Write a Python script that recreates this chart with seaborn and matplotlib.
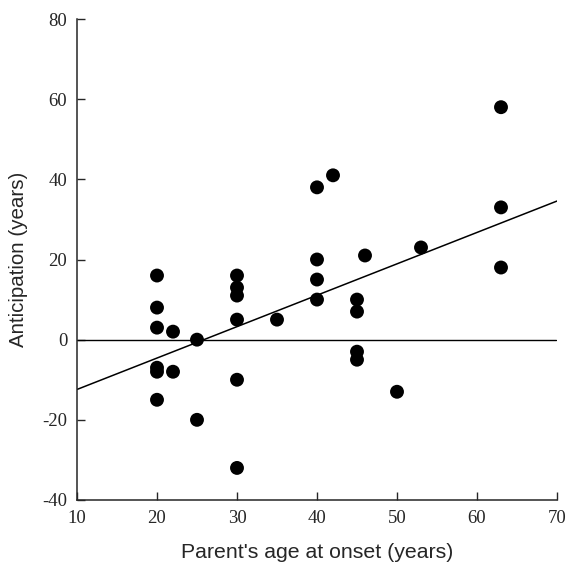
import matplotlib
matplotlib.use("Agg")
import matplotlib.pyplot as plt
import seaborn as sns
import pandas as pd

parent_age = [20, 20, 20, 20, 20, 20,
              22, 22,
              25, 25,
              30, 30, 30, 30, 30, 30,
              35,
              40, 40, 40, 40,
              42,
              45, 45, 45, 45,
              46,
              50,
              53,
              63, 63, 63]
anticipation = [16, 8, 3, -7, -8, -15,
                2, -8,
                0, -20,
                16, 13, 11, 5, -10, -32,
                5,
                38, 20, 15, 10,
                41,
                10, 7, -3, -5,
                21,
                -13,
                23,
                58, 33, 18]

x_ticks = [10, 20, 30, 40, 50, 60, 70]
y_ticks = [-40, -20, 0, 20, 40, 60, 80]

df = pd.DataFrame({"age": parent_age, "ant": anticipation})

sns.set_style("ticks")
fig = plt.figure(figsize=(5.72, 5.63), dpi=100)
ax = fig.add_axes([77/572, 1-500/563, 480/572, 481/563])
ax.set_xlim(10, 70)
ax.set_ylim(-40, 80)

ax.axhline(0, color="black", lw=1.0, xmax=0.997)
sns.regplot(data=df, x="age", y="ant", ax=ax, ci=None, truncate=False,
            scatter_kws=dict(s=100, color="black", edgecolor="none", alpha=1),
            line_kws=dict(color="black", lw=1.1))

ax.set_xlim(10, 70)
ax.set_ylim(-40, 80)
ax.set_xticks(x_ticks)
ax.set_yticks(y_ticks)
ax.set_xticklabels([str(t) for t in x_ticks], family="Liberation Serif", fontsize=13.5)
ax.set_yticklabels([str(t) for t in y_ticks], family="Liberation Serif", fontsize=13.5)
ax.tick_params(direction="in", length=6, width=1)
ax.tick_params(axis="x", pad=7)
ax.tick_params(axis="y", pad=7)
for s in ["top", "right"]:
    ax.spines[s].set_visible(False)
for s in ["left", "bottom"]:
    ax.spines[s].set_linewidth(1.1)
ax.set_xlabel("Parent's age at onset (years)", family="Liberation Sans", fontsize=15.3, labelpad=12)
ax.set_ylabel("Anticipation (years)", family="Liberation Sans", fontsize=14.8, labelpad=10)

fig.savefig("out.png", dpi=100)
